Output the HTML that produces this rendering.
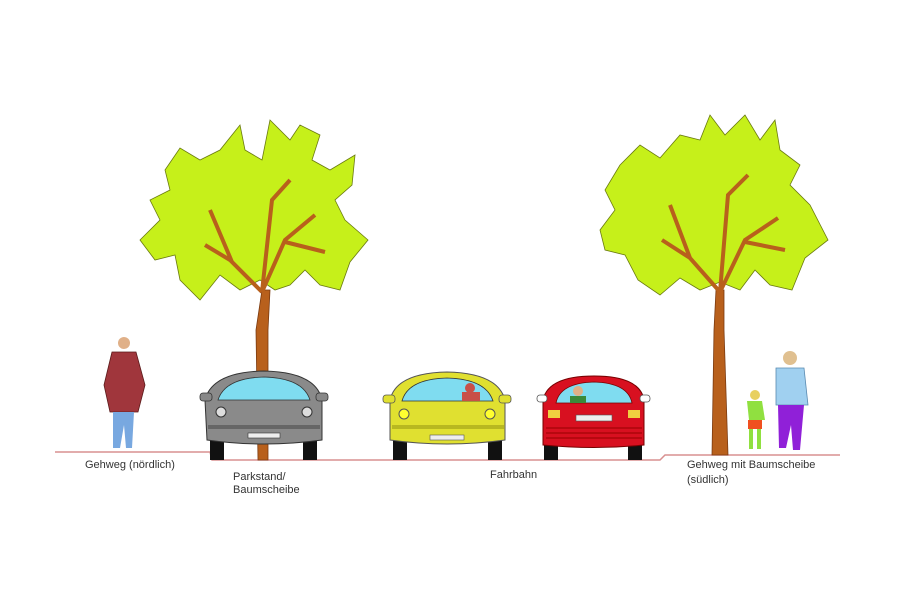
<!DOCTYPE html>
<html><head><meta charset="utf-8"><style>body{margin:0;background:#fff}svg{display:block}text{font-family:"Liberation Sans",sans-serif;font-size:11px;fill:#333}</style></head>
<body>
<svg width="900" height="600" viewBox="0 0 900 600">
<!-- ground -->
<polyline points="55,452 210,452 212,460 660,460 665,455 840,455" fill="none" stroke="#d89090" stroke-width="1.5"/>
<!-- left tree -->
<path d="M258,460 L256,330 L262,290 L270,290 L268,330 L268,460Z" fill="#b8601c" stroke="#7a3a10" stroke-width="0.8"/>
<polygon points="165,170 180,148 200,160 220,150 240,125 245,150 262,160 270,120 290,140 300,125 320,135 312,160 330,170 355,155 352,185 335,200 345,220 368,240 350,262 340,290 320,285 305,270 290,285 275,290 260,280 240,290 220,275 200,300 180,280 175,255 155,260 140,240 160,220 150,200 170,190" fill="#c6f01a" stroke="#6a7a10" stroke-width="0.8"/>
<path d="M262,292 L230,260 L205,245 M232,262 L210,210 M262,292 L285,240 L315,215 M285,242 L325,252 M262,292 L272,200 L290,180" fill="none" stroke="#b8601c" stroke-width="4"/>
<!-- right tree -->
<path d="M712,455 L714,330 L716,290 L724,290 L724,330 L728,455Z" fill="#b8601c" stroke="#7a3a10" stroke-width="0.8"/>
<polygon points="620,165 640,145 660,158 680,135 700,140 710,115 725,135 745,115 760,140 775,120 780,150 800,165 790,185 810,205 828,240 805,258 792,290 770,285 755,270 740,290 720,282 700,290 680,278 660,295 638,280 625,255 605,250 600,230 615,210 605,190" fill="#c6f01a" stroke="#6a7a10" stroke-width="0.8"/>
<path d="M720,292 L690,258 L662,240 M690,258 L670,205 M720,292 L745,240 L778,218 M745,242 L785,250 M720,292 L728,195 L748,175" fill="none" stroke="#b8601c" stroke-width="4"/>
<!-- man left -->
<circle cx="124" cy="343" r="6" fill="#e0b088"/>
<path d="M112,352 L136,352 L145,385 L138,412 L110,412 L104,385Z" fill="#a0363c" stroke="#5a1a1a" stroke-width="0.8"/>
<path d="M113,412 L134,412 L132,448 L126,448 L124,425 L120,448 L113,448Z" fill="#78a8e0"/>
<!-- grey car -->
<g>
<rect x="210" y="440" width="14" height="20" fill="#111"/><rect x="303" y="440" width="14" height="20" fill="#111"/>
<path d="M205,400 Q212,372 264,371 Q316,372 322,400 L322,440 Q264,448 207,440Z" fill="#8a8a8a" stroke="#333" stroke-width="1"/>
<path d="M218,400 Q225,378 264,377 Q303,378 310,400Z" fill="#7fdcf0" stroke="#333" stroke-width="0.8"/>
<rect x="200" y="393" width="12" height="8" rx="3" fill="#888" stroke="#333" stroke-width="0.8"/><rect x="316" y="393" width="12" height="8" rx="3" fill="#888" stroke="#333" stroke-width="0.8"/>
<circle cx="221" cy="412" r="5" fill="#ddd" stroke="#333"/><circle cx="307" cy="412" r="5" fill="#ddd" stroke="#333"/>
<rect x="208" y="425" width="112" height="4" fill="#666"/><rect x="248" y="433" width="32" height="5" fill="#eee" stroke="#333" stroke-width="0.6"/>
</g>
<!-- yellow car -->
<g>
<rect x="393" y="440" width="14" height="20" fill="#111"/><rect x="488" y="440" width="14" height="20" fill="#111"/>
<path d="M390,400 Q396,373 447,372 Q498,373 505,400 L505,440 Q447,448 390,440Z" fill="#e0e030" stroke="#555" stroke-width="1"/>
<path d="M402,401 Q408,379 447,378 Q486,379 493,401Z" fill="#7fdcf0" stroke="#333" stroke-width="0.8"/>
<circle cx="470" cy="388" r="5" fill="#c85048"/><rect x="462" y="392" width="18" height="9" fill="#c85048"/>
<rect x="383" y="395" width="12" height="8" rx="3" fill="#e0e030" stroke="#555" stroke-width="0.8"/><rect x="499" y="395" width="12" height="8" rx="3" fill="#e0e030" stroke="#555" stroke-width="0.8"/>
<circle cx="404" cy="414" r="5" fill="#ffff30" stroke="#555"/><circle cx="490" cy="414" r="5" fill="#ffff30" stroke="#555"/>
<rect x="392" y="425" width="112" height="4" fill="#b8b820"/><rect x="430" y="435" width="34" height="5" fill="#eee" stroke="#555" stroke-width="0.6"/>
</g>
<!-- red car -->
<g>
<rect x="544" y="440" width="14" height="20" fill="#111"/><rect x="628" y="440" width="14" height="20" fill="#111"/>
<path d="M543,400 Q548,376 594,376 Q640,376 644,400 L644,445 Q594,450 543,445Z" fill="#d81020" stroke="#700" stroke-width="1"/>
<path d="M556,403 Q560,383 594,382 Q628,383 632,403Z" fill="#7fdcf0" stroke="#700" stroke-width="0.8"/>
<circle cx="578" cy="391" r="5" fill="#e0b088"/><rect x="570" y="396" width="16" height="7" fill="#3a8a3a"/>
<rect x="537" y="395" width="10" height="7" rx="3" fill="#fff" stroke="#555" stroke-width="0.8"/><rect x="640" y="395" width="10" height="7" rx="3" fill="#fff" stroke="#555" stroke-width="0.8"/>
<rect x="548" y="410" width="12" height="8" fill="#f0d040"/><rect x="628" y="410" width="12" height="8" fill="#f0d040"/>
<rect x="576" y="415" width="36" height="6" fill="#eee" stroke="#555" stroke-width="0.6"/>
<path d="M546,428 H642 M546,433 H642 M546,438 H642" stroke="#900" stroke-width="1"/>
</g>
<!-- child -->
<circle cx="755" cy="395" r="5" fill="#e8d060"/>
<path d="M747,401 L762,401 L765,420 L749,420Z" fill="#90e040"/>
<rect x="748" y="420" width="14" height="9" fill="#f05020"/>
<rect x="749" y="429" width="4" height="20" fill="#90e040"/><rect x="757" y="429" width="4" height="20" fill="#90e040"/>
<!-- adult -->
<circle cx="790" cy="358" r="7" fill="#e0c090"/>
<path d="M776,368 L804,368 L808,405 L776,405Z" fill="#a0d0f0" stroke="#5a8ab0" stroke-width="0.8"/>
<path d="M778,405 L804,405 L800,450 L793,450 L791,425 L786,448 L779,448Z" fill="#9020d8"/>
<text x="85" y="468">Gehweg (nördlich)</text>
<text x="233" y="480">Parkstand/</text>
<text x="233" y="493">Baumscheibe</text>
<text x="490" y="478">Fahrbahn</text>
<text x="687" y="468">Gehweg mit Baumscheibe</text>
<text x="687" y="483">(südlich)</text>
</svg>
</body></html>
